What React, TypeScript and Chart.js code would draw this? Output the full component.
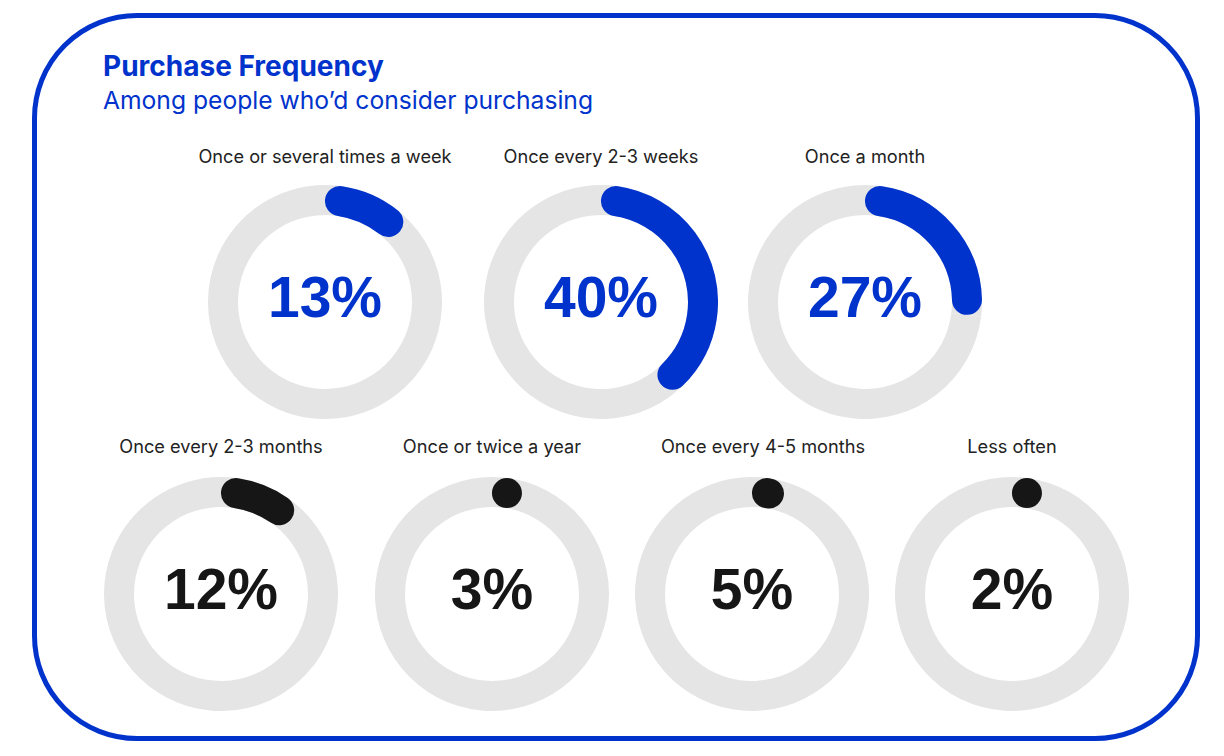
import React, { useEffect, useRef } from "react";
import { Chart, registerables } from "chart.js";

Chart.register(...registerables);

// ---- data ----
const TITLE = "Purchase Frequency";
const SUBTITLE = "Among people who’d consider purchasing";
const categories = [
  "Once or several times a week",
  "Once every 2-3 weeks",
  "Once a month",
  "Once every 2-3 months",
  "Once or twice a year",
  "Once every 4-5 months",
  "Less often",
];
const values = [13, 40, 27, 12, 3, 5, 2];
const highlighted = [true, true, true, false, false, false, false];

// ---- layout / styles ----
const BLUE = "#0033cc";
const DARK = "#161616";
const TRACK = "#e5e5e5";
const OUTER_R = 117;
const INNER_R = 87;
const centers: [number, number][] = [
  [325, 302],
  [601, 302],
  [865, 302],
  [221, 594],
  [492, 594],
  [752, 594],
  [1012, 594],
];
const labelShift = [0, 0, 0, 0, 0, 11, 0];

const roundArc = {
  id: "roundArc",
  afterDatasetsDraw(chart: any, _args: any, opts: any) {
    const meta = chart.getDatasetMeta(0);
    const arc = meta.data[0];
    if (!arc) return;
    const p = arc.getProps(
      ["x", "y", "startAngle", "endAngle", "innerRadius", "outerRadius"],
      true
    );
    const mid = (p.innerRadius + p.outerRadius) / 2;
    const half = (p.outerRadius - p.innerRadius) / 2;
    const capAng = half / mid;
    const a0 = p.startAngle + capAng;
    const a1 = p.endAngle - capAng;
    const ctx = chart.ctx;
    ctx.save();
    ctx.fillStyle = opts.color;
    ctx.strokeStyle = opts.color;
    if (a1 <= a0) {
      ctx.beginPath();
      ctx.arc(p.x + Math.cos(a0) * mid, p.y + Math.sin(a0) * mid, half, 0, Math.PI * 2);
      ctx.fill();
    } else {
      ctx.beginPath();
      ctx.lineWidth = half * 2;
      ctx.lineCap = "round";
      ctx.arc(p.x, p.y, mid, a0, a1);
      ctx.stroke();
    }
    ctx.restore();
  },
};

function Donut({ value, color }: { value: number; color: string }) {
  const ref = useRef<HTMLCanvasElement>(null);
  useEffect(() => {
    if (!ref.current) return;
    const chart = new Chart(ref.current, {
      type: "doughnut",
      data: {
        labels: ["value", "rest"],
        datasets: [
          {
            data: [value, 100 - value],
            backgroundColor: [TRACK, TRACK],
            borderWidth: 0,
            hoverOffset: 0,
          },
        ],
      },
      options: {
        responsive: false,
        maintainAspectRatio: false,
        animation: false,
        events: [],
        radius: OUTER_R,
        cutout: INNER_R,
        layout: { padding: 0 },
        plugins: {
          legend: { display: false },
          tooltip: { enabled: false },
          roundArc: { color },
        } as any,
      },
      plugins: [roundArc as any],
    });
    return () => chart.destroy();
  }, [value, color]);
  return <canvas ref={ref} width={OUTER_R * 2} height={OUTER_R * 2} />;
}

export default function App() {
  return (
    <div
      style={{
        position: "fixed",
        left: 0,
        top: 0,
        width: 1224,
        height: 756,
        background: "#ffffff",
        overflow: "hidden",
      }}
    >
      <div
        style={{
          position: "absolute",
          left: 32,
          top: 13,
          width: 1168,
          height: 728,
          boxSizing: "border-box",
          border: `5px solid ${BLUE}`,
          borderRadius: 105,
        }}
      />
      <div
        style={{
          position: "absolute",
          left: 103,
          top: 51.8,
          fontFamily: "Inter, sans-serif",
          fontWeight: 700,
          fontSize: 28,
          lineHeight: "28px",
          color: BLUE,
          whiteSpace: "nowrap",
        }}
      >
        {TITLE}
      </div>
      <div
        style={{
          position: "absolute",
          left: 103,
          top: 88,
          fontFamily: "Inter, sans-serif",
          fontWeight: 400,
          fontSize: 24.65,
          lineHeight: "24.65px",
          color: BLUE,
          whiteSpace: "nowrap",
        }}
      >
        {SUBTITLE}
      </div>
      {values.map((v, i) => {
        const [cx, cy] = centers[i];
        const color = highlighted[i] ? BLUE : DARK;
        const labelBaseline = cy < 450 ? 163 : 453;
        return (
          <React.Fragment key={i}>
            <div
              style={{
                position: "absolute",
                left: cx - 200 + labelShift[i],
                width: 400,
                top: labelBaseline - 15.7,
                textAlign: "center",
                fontFamily: "Inter, sans-serif",
                fontSize: 18.2,
                lineHeight: "18.2px",
                color: "#222222",
                whiteSpace: "nowrap",
              }}
            >
              {categories[i]}
            </div>
            <div
              style={{
                position: "absolute",
                left: cx - OUTER_R,
                top: cy - OUTER_R,
                width: OUTER_R * 2,
                height: OUTER_R * 2,
              }}
            >
              <Donut value={v} color={color} />
            </div>
            <div
              style={{
                position: "absolute",
                left: cx - 120,
                width: 240,
                top: cy + 15 - 48.3,
                textAlign: "center",
                fontFamily: "'Liberation Sans', Arial, sans-serif",
                fontWeight: 700,
                fontSize: 57,
                lineHeight: "57px",
                color,
                whiteSpace: "nowrap",
              }}
            >
              {v}%
            </div>
          </React.Fragment>
        );
      })}
    </div>
  );
}
